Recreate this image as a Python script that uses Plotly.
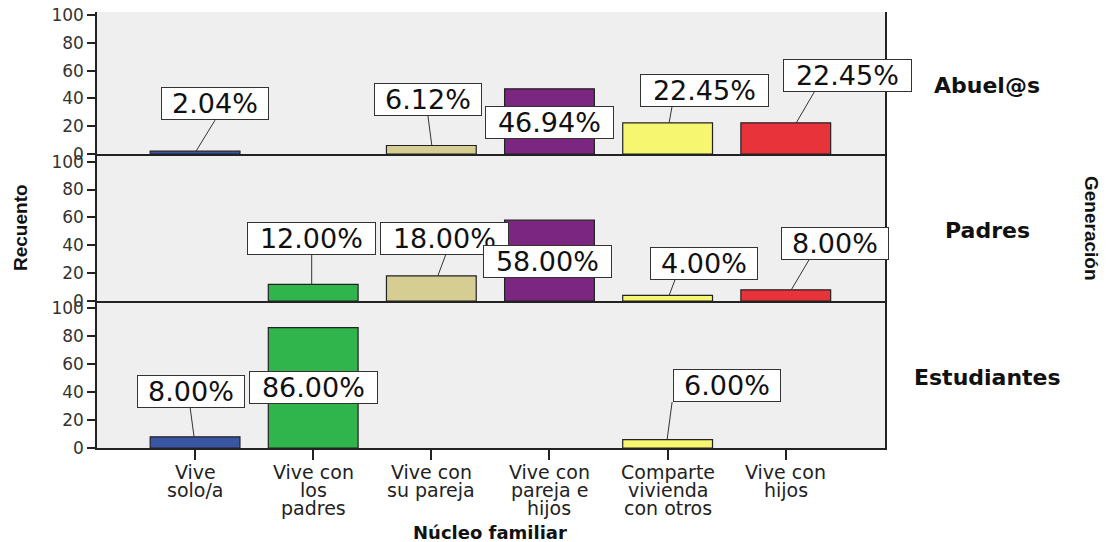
import plotly.graph_objects as go
from plotly.subplots import make_subplots

# ---- data ---------------------------------------------------------------
categories = [
    "Vive solo/a",
    "Vive con los padres",
    "Vive con su pareja",
    "Vive con pareja e hijos",
    "Comparte vivienda con otros",
    "Vive con hijos",
]
tick_labels = [
    "Vive<br>solo/a",
    "Vive con<br>los<br>padres",
    "Vive con<br>su pareja",
    "Vive con<br>pareja e<br>hijos",
    "Comparte<br>vivienda<br>con otros",
    "Vive con<br>hijos",
]
generations = ["Abuel@s", "Padres", "Estudiantes"]

# percentage of each generation per household type (None = no cases)
abuelos = [2.04, None, 6.12, 46.94, 22.45, 22.45]
padres = [None, 12.00, 18.00, 58.00, 4.00, 8.00]
estudiantes = [8.00, 86.00, None, None, 6.00, None]

bar_colors = ["#3b55a5", "#2fb54b", "#d5cd91", "#7b2680", "#f6f671", "#e8333a"]

# ---- label placement (pixel offsets from the top centre of each bar) ----
# box: (dx, dy) of the label box centre; line: (tail dx, tail dy, head dx)
label_layout = {
    0: {
        0: dict(box=(19.5, -47.7), line=(20, -31, 1)),
        2: dict(box=(-3.5, -46.5), line=(-3.5, -30.5, 0.5)),
        3: dict(box=(0, 33.7), line=None),
        4: dict(box=(37, -32.8), line=(4.5, -16.8, 1.5)),
        5: dict(box=(62, -47.8), line=(28.5, -30.8, 10.5)),
    },
    1: {
        1: dict(box=(-2, -45.3), line=(-1.5, -30.8, -1.5)),
        2: dict(box=(13.5, -37.5), line=(14.5, -21.5, 6.5)),
        3: dict(box=(-1.5, 41), line=None),
        4: dict(box=(36, -32), line=(7.5, -16, 1.5)),
        5: dict(box=(49, -46.4), line=(23.5, -30.4, 5.5)),
    },
    2: {
        0: dict(box=(-4, -45.8), line=(-5, -29.8, -1)),
        1: dict(box=(0, 59.4), line=None),
        4: dict(box=(59.5, -54), line=(4.5, -37.6, -0.5)),
    },
}

W, H = 1117, 542
L, R, T, B = 97, 232, 12, 94
plot_w = W - L - R
plot_h = H - T - B
# panel boundaries (pixels from top of page)
bounds = [12, 154, 301, 448]
y_ranges = [[0, 102.2], [0, 105.5], [0, 105]]

AXIS = "#222222"
LABEL_FONT = "DejaVu Sans"


def px_x(px):
    return (px - L) / plot_w


def px_y(py):
    return (H - B - py) / plot_h


fig = make_subplots(rows=3, cols=1, shared_xaxes=True, vertical_spacing=0)

series = [abuelos, padres, estudiantes]
for r, vals in enumerate(series):
    fig.add_trace(
        go.Bar(
            x=categories,
            y=vals,
            width=0.76,
            marker=dict(color=bar_colors, line=dict(color=AXIS, width=1.2)),
            showlegend=False,
            hoverinfo="skip",
        ),
        row=r + 1,
        col=1,
    )

shapes = []
annotations = []
for r, vals in enumerate(series):
    xref = "x" if r == 0 else f"x{r + 1}"
    yref = "y" if r == 0 else f"y{r + 1}"
    for i, spec in label_layout[r].items():
        v = vals[i]
        text = f"{v:.2f}%"
        dx, dy = spec["box"]
        annotations.append(
            dict(
                x=categories[i], y=v, xref=xref, yref=yref,
                text=text, showarrow=False,
                xanchor="center", yanchor="middle",
                xshift=dx, yshift=-dy,
                font=dict(family=LABEL_FONT, size=27, color="#111111"),
                bgcolor="white", bordercolor="#333333", borderwidth=1,
                borderpad=1, width=20.8 * len(text), height=29,
                align="center", valign="middle",
            )
        )
        if spec["line"] is not None:
            tx, ty, hx = spec["line"]
            shapes.append(
                dict(
                    type="line", xref=xref, yref=yref,
                    xsizemode="pixel", ysizemode="pixel",
                    xanchor=categories[i], yanchor=v,
                    x0=tx, y0=-ty, x1=hx, y1=0,
                    line=dict(color="#333333", width=1),
                    layer="above",
                )
            )

# category labels under the bottom panel, one line at a time
for i, lab in enumerate(tick_labels):
    for j, line in enumerate(lab.split("<br>")):
        annotations.append(
            dict(
                x=categories[i], y=0, xref="x3", yref="paper",
                text=line, showarrow=False,
                xanchor="center", yanchor="middle", yshift=-(24 + 18 * j),
                font=dict(family=LABEL_FONT, size=19, color="#222222"),
            )
        )

# axis titles
annotations.append(
    dict(x=px_x(490), y=px_y(532), xref="paper", yref="paper",
         xanchor="center", yanchor="middle", showarrow=False,
         text="<b>Núcleo familiar</b>",
         font=dict(family=LABEL_FONT, size=18, color="#111111"))
)
annotations.append(
    dict(x=px_x(20), y=px_y(228), xref="paper", yref="paper",
         xanchor="center", yanchor="middle", showarrow=False, textangle=-90,
         text="<b>Recuento</b>",
         font=dict(family="Liberation Sans", size=19, color="#111111"))
)
annotations.append(
    dict(x=px_x(1092), y=px_y(228), xref="paper", yref="paper",
         xanchor="center", yanchor="middle", showarrow=False, textangle=90,
         text="<b>Generación</b>",
         font=dict(family="Liberation Sans", size=19, color="#111111"))
)
# panel (generation) labels
for name, ypix in zip(generations, [85, 230, 377]):
    annotations.append(
        dict(x=px_x(987), y=px_y(ypix), xref="paper", yref="paper",
             xanchor="center", yanchor="middle", showarrow=False,
             text=f"<b>{name}</b>",
             font=dict(family=LABEL_FONT, size=22, color="#111111"))
    )

layout_axes = {}
for r in range(3):
    ykey = "yaxis" if r == 0 else f"yaxis{r + 1}"
    xkey = "xaxis" if r == 0 else f"xaxis{r + 1}"
    top, bottom = bounds[r], bounds[r + 1]
    layout_axes[ykey] = dict(
        domain=[px_y(bottom), px_y(top)],
        range=y_ranges[r],
        tickvals=[0, 20, 40, 60, 80, 100],
        ticks="outside", ticklen=8, tickwidth=1.5, tickcolor=AXIS,
        showline=True, linecolor=AXIS, linewidth=1.5, mirror=True,
        showgrid=False, zeroline=False, automargin=False,
        tickfont=dict(family=LABEL_FONT, size=17, color="#333333"),
        fixedrange=True,
    )
    layout_axes[xkey] = dict(
        range=[-0.83, 5.84],
        showline=True, linecolor=AXIS, linewidth=1.5,
        showgrid=False, zeroline=False, showticklabels=False,
        ticks="outside" if r == 2 else "", ticklen=10, tickwidth=1.5,
        tickcolor=AXIS, fixedrange=True, automargin=False,
    )

fig.update_layout(
    width=W, height=H,
    margin=dict(l=L, r=R, t=T, b=B, autoexpand=False),
    paper_bgcolor="white",
    plot_bgcolor="#efefef",
    showlegend=False,
    shapes=shapes,
    annotations=annotations,
    **layout_axes,
)

fig.write_html("out.html")
